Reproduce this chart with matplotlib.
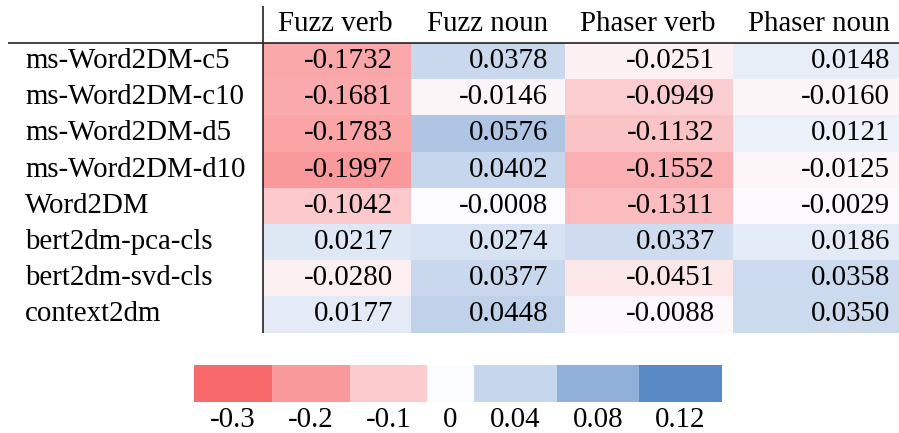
import numpy as np
import matplotlib
matplotlib.use("Agg")
import matplotlib.pyplot as plt
from matplotlib.colors import LinearSegmentedColormap, TwoSlopeNorm

# data
models = ["ms-Word2DM-c5", "ms-Word2DM-c10", "ms-Word2DM-d5", "ms-Word2DM-d10",
          "Word2DM", "bert2dm-pca-cls", "bert2dm-svd-cls", "context2dm"]
columns = ["Fuzz verb", "Fuzz noun", "Phaser verb", "Phaser noun"]
fuzz_verb = [-0.1732, -0.1681, -0.1783, -0.1997, -0.1042, 0.0217, -0.0280, 0.0177]
fuzz_noun = [0.0378, -0.0146, 0.0576, 0.0402, -0.0008, 0.0274, 0.0377, 0.0448]
phaser_verb = [-0.0251, -0.0949, -0.1132, -0.1552, -0.1311, 0.0337, -0.0451, -0.0088]
phaser_noun = [0.0148, -0.0160, 0.0121, -0.0125, -0.0029, 0.0186, 0.0358, 0.0350]
legend_vals = [-0.3, -0.2, -0.1, 0, 0.04, 0.08, 0.12]
legend_labels = ["-0.3", "-0.2", "-0.1", "0", "0.04", "0.08", "0.12"]

values = np.array([fuzz_verb, fuzz_noun, phaser_verb, phaser_noun]).T

# excel-style 3 colour scale
cmap = LinearSegmentedColormap.from_list("rwb", ["#F8696B", "#FCFCFF", "#5A8AC6"])
norm = TwoSlopeNorm(vmin=-0.3, vcenter=0.0, vmax=0.12)

plt.rcParams["font.family"] = "serif"
plt.rcParams["font.serif"] = ["Liberation Serif", "Times New Roman", "DejaVu Serif"]
fs = 20.8

fig = plt.figure(figsize=(8.99, 4.33), dpi=100)
ax = fig.add_axes([0, 0, 1, 1])
ax.set_xlim(0, 899)
ax.set_ylim(433, 0)
ax.axis("off")

# table layout in pixels
col_edges = [263, 411, 565, 733, 899]
text_right = [393, 548, 715, 890]
row_top = 43
row_h = 36.2
row_edges = [row_top + i * row_h for i in range(len(models) + 1)]

ax.pcolormesh(col_edges, row_edges, values, cmap=cmap, norm=norm, shading="flat")

# header
for j, name in enumerate(columns):
    ax.text(text_right[j], 31, name, fontsize=fs, ha="right", va="baseline")

for i, m in enumerate(models):
    yb = row_edges[i] + 25
    ax.text(25, yb, m, fontsize=fs, ha="left", va="baseline")
    for j in range(len(columns)):
        ax.text(text_right[j], yb, f"{values[i, j]:.4f}", fontsize=fs,
                ha="right", va="baseline")

# rules
ax.plot([8, 899], [row_top, row_top], color="#222222", lw=1.2, solid_capstyle="butt")
ax.plot([263, 263], [6, row_edges[-1]], color="#222222", lw=1.2, solid_capstyle="butt")

# legend bar
leg_edges = [194, 272, 350, 427, 474, 557, 639, 722]
ax.pcolormesh(leg_edges, [365, 402], np.array([legend_vals]), cmap=cmap, norm=norm,
              shading="flat")
for k, lab in enumerate(legend_labels):
    xc = (leg_edges[k] + leg_edges[k + 1]) / 2
    ax.text(xc, 427, lab, fontsize=fs, ha="center", va="baseline")

fig.savefig("out.png", dpi=100)
